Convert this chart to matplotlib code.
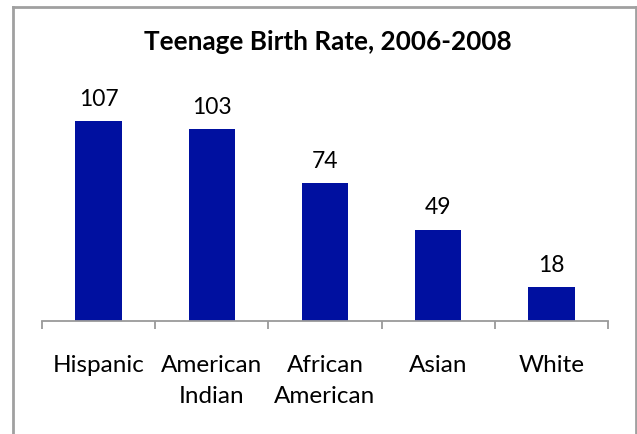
import matplotlib.pyplot as plt
from matplotlib.lines import Line2D

plt.rcParams['font.family'] = ['Lato', 'DejaVu Sans']

# teen births per 1,000 women aged 15-19
groups = ["Hispanic", "American\nIndian", "African\nAmerican", "Asian", "White"]
rates = [107, 103, 74, 49, 18]

bar_color = "#0010A0"
axis_gray = "#9a9a9a"

W, H = 637, 434
fig = plt.figure(figsize=(W / 100, H / 100), dpi=100)
ax = fig.add_axes([42 / W, 1 - 321 / H, (608 - 42) / W, (321 - 97) / H])

x = range(len(groups))
bars = ax.bar(x, rates, width=0.41, color=bar_color, zorder=2)
ax.bar_label(bars, labels=[str(v) for v in rates], padding=8, fontsize=16.5)

ax.set_xlim(-0.5, len(groups) - 0.5)
ax.set_ylim(0, 120)
ax.set_yticks([])
for side in ("left", "right", "top"):
    ax.spines[side].set_visible(False)
ax.spines["bottom"].set_color(axis_gray)
ax.spines["bottom"].set_linewidth(1.3)

# category separators hanging under the axis
ax.set_xticks([i - 0.5 for i in range(len(groups) + 1)])
ax.set_xticklabels([])
ax.tick_params(axis="x", length=6, width=1.3, color=axis_gray)
for i, g in enumerate(groups):
    ax.text(i, -0.15, g, transform=ax.get_xaxis_transform(), ha="center", va="top",
            fontsize=17.5, linespacing=1.6)

fig.text(328 / W, 1 - 42 / H, "Teenage Birth Rate, 2006-2008", ha="center", va="center",
         fontsize=18.8, fontweight="bold")

# chart frame (bottom edge falls outside the image)
frame = dict(color="#a0a0a0", linewidth=2)
fig.add_artist(Line2D([13 / W, 13 / W], [0, 1 - 7 / H], **frame))
fig.add_artist(Line2D([13 / W, 636 / W], [1 - 7 / H, 1 - 7 / H], **frame))
fig.add_artist(Line2D([636 / W, 636 / W], [0, 1 - 7 / H], **frame))

fig.savefig("out.png", dpi=100)
